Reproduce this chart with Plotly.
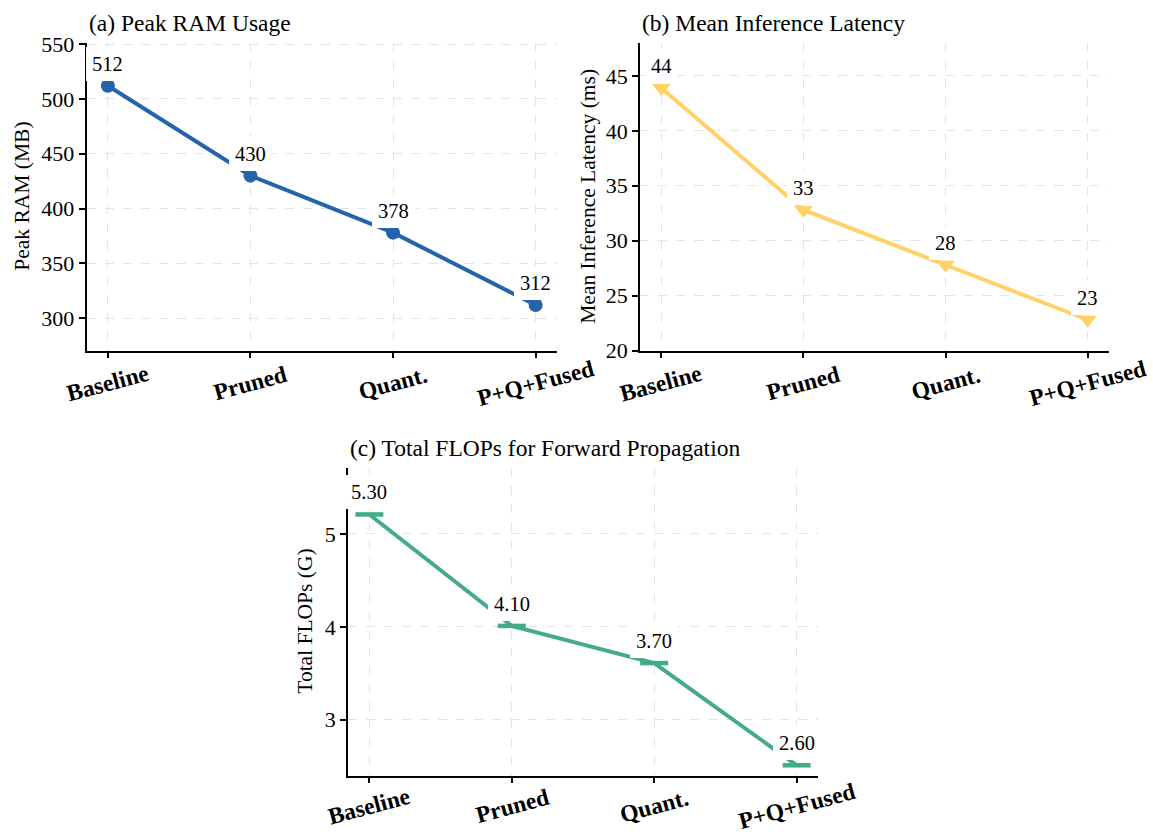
import plotly.graph_objects as go

# ---------------- data ----------------
categories = ["Baseline", "Pruned", "Quant.", "P+Q+Fused"]
ram_mb = [512, 430, 378, 312]
latency_ms = [43.9, 32.8, 27.8, 22.8]
flops_g = [5.21, 4.01, 3.61, 2.51]
flops_labels = ["5.30", "4.10", "3.70", "2.60"]
ram_ticks = [300, 350, 400, 450, 500, 550]
lat_ticks = [20, 25, 30, 35, 40, 45]
flops_ticks = [3, 4, 5]

W, H = 1153, 836
SERIF = "Liberation Serif, Times New Roman, serif"


def fx(p):
    return p / W


def fy(p):
    return 1 - p / H


panels = [
    dict(key="", x0=86.5, x1=557, y0=43, y1=350.5, color="#2364AA",
         vals=ram_mb, labels=[f"{v:.0f}" for v in ram_mb], ticks=ram_ticks,
         rng=[270.5, 551], symbol="circle", msize=14, mline=0, xlshift=-33,
         title="(a) Peak RAM Usage", ytitle="Peak RAM (MB)", ytx=22),
    dict(key="2", x0=640, x1=1109, y0=43, y1=350.5, color="#FFD166",
         vals=latency_ms, labels=[f"{v:.0f}" for v in latency_ms], ticks=lat_ticks,
         rng=[20, 48.0], symbol="triangle-down", msize=16, mline=0, xlshift=-33,
         title="(b) Mean Inference Latency", ytitle="Mean Inference Latency (ms)", ytx=588),
    dict(key="3", x0=348, x1=818, y0=468, y1=775.5, color="#43AA8B",
         vals=flops_g, labels=flops_labels, ticks=flops_ticks,
         rng=[2.40, 5.71], symbol="line-ew", msize=20, mline=4.5, xlshift=-30,
         title="(c) Total FLOPs for Forward Propagation", ytitle="Total FLOPs (G)", ytx=305),
]

fig = go.Figure()
annotations = []
layout = dict(
    template="none",
    width=W, height=H, autosize=False,
    margin=dict(l=0, r=0, t=0, b=0, pad=0),
    paper_bgcolor="white", plot_bgcolor="white",
    showlegend=False,
    font=dict(family=SERIF, color="black"),
)

for p in panels:
    k = p["key"]
    xname, yname = "x" + k, "y" + k
    marker = dict(symbol=p["symbol"], size=p["msize"], color=p["color"])
    if p["mline"]:
        marker["line"] = dict(width=p["mline"], color=p["color"])
    else:
        marker["line"] = dict(width=0)
    fig.add_trace(go.Scatter(
        x=categories, y=p["vals"], mode="lines+markers",
        line=dict(color=p["color"], width=4),
        marker=marker, xaxis=xname, yaxis=yname, cliponaxis=False,
        hoverinfo="skip",
    ))
    layout["xaxis" + k] = dict(
        domain=[fx(p["x0"]), fx(p["x1"])], anchor=yname, automargin=False,
        type="category", range=[-0.15, 3.15],
        showline=True, linecolor="black", linewidth=1.5,
        ticks="outside", ticklen=6, tickwidth=1.5, tickcolor="black",
        showticklabels=False,
        showgrid=True, gridcolor="#e4e4e4", griddash="dash", gridwidth=1,
        zeroline=False, fixedrange=True,
    )
    layout["yaxis" + k] = dict(
        domain=[fy(p["y1"]), fy(p["y0"])], anchor=xname, automargin=False,
        range=p["rng"], tickvals=p["ticks"],
        showline=True, linecolor="black", linewidth=1.5,
        ticks="outside", ticklen=6, tickwidth=1.5, tickcolor="black",
        tickfont=dict(family=SERIF, size=22, color="black"),
        showgrid=True, gridcolor="#e4e4e4", griddash="dash", gridwidth=1,
        zeroline=False, fixedrange=True,
    )
    # value labels with white boxes
    for c, v, t in zip(categories, p["vals"], p["labels"]):
        annotations.append(dict(
            x=c, y=v, xref=xname, yref=yname, text=t, showarrow=False,
            yshift=22, xanchor="center", yanchor="middle",
            bgcolor="white", borderpad=6, borderwidth=0,
            font=dict(family=SERIF, size=20.5, color="black"),
        ))
    # rotated bold category labels
    for c in categories:
        annotations.append(dict(
            x=c, y=0, xref=xname, yref=yname + " domain", text="<b>" + c + "</b>",
            showarrow=False, textangle=-15, xanchor="center", yanchor="middle",
            yshift=p["xlshift"], font=dict(family=SERIF, size=23.5, color="black"),
        ))
    # panel title
    annotations.append(dict(
        x=fx(p["x0"]), y=fy(p["y0"] - 20), xref="paper", yref="paper",
        text=p["title"], showarrow=False, xanchor="left", yanchor="middle",
        font=dict(family=SERIF, size=23.5, color="black"),
    ))
    # y-axis title
    annotations.append(dict(
        x=fx(p["ytx"]), y=fy((p["y0"] + p["y1"]) / 2), xref="paper", yref="paper",
        text=p["ytitle"], showarrow=False, textangle=-90,
        xanchor="center", yanchor="middle",
        font=dict(family=SERIF, size=21.5, color="black"),
    ))

layout["annotations"] = annotations
fig.update_layout(**layout)
fig.write_html("out.html")
